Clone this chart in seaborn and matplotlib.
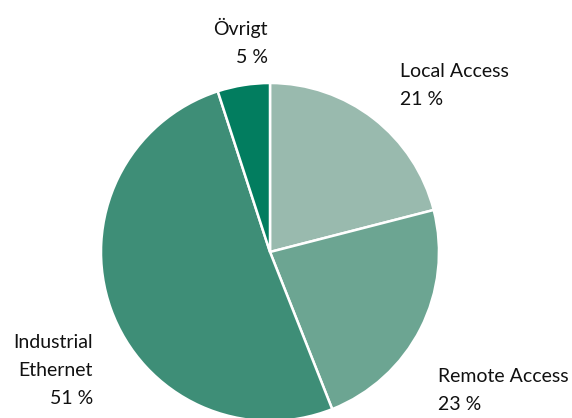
import matplotlib
matplotlib.use("Agg")
import matplotlib.pyplot as plt
import seaborn as sns

# Data
kategorier = ["Local Access", "Remote Access", "Industrial Ethernet", "Övrigt"]
andelar = [21, 23, 51, 5]
etikett_rader = [["Local Access"], ["Remote Access"], ["Industrial", "Ethernet"], ["Övrigt"]]
farger = ["#99baae", "#6ca592", "#3e8e77", "#027d5f"]

sns.set_theme(style="white")
plt.rcParams["font.family"] = ["Lato", "DejaVu Sans"]

fig = plt.figure(figsize=(5.72, 4.18), dpi=100)
ax = fig.add_axes([0, 0, 1, 1])

wedges, _ = ax.pie(andelar, colors=farger, startangle=90, counterclock=False,
                   radius=1, wedgeprops=dict(edgecolor="white", linewidth=1.8))

# Pie centre at pixel (270, 252), radius 169 px
ax.set_xlim(-270 / 169, (572 - 270) / 169)
ax.set_ylim(-(418 - 252) / 169, 252 / 169)
ax.set_aspect("equal")
ax.axis("off")

# Label placement: (x, first baseline y, ha)
pos = {
    "Local Access": (0.769, 1.036, "left"),
    "Remote Access": (0.994, -0.769, "left"),
    "Industrial Ethernet": (-1.047, -0.568, "right"),
    "Övrigt": (-0.012, 1.284, "right"),
}
steg = 28 / 169

for kat, v, rader in zip(kategorier, andelar, etikett_rader):
    x, y, ha = pos[kat]
    for i, txt in enumerate(rader + [f"{v} %"]):
        ax.text(x, y - i * steg, txt, ha=ha, va="baseline", fontsize=14, color="#111111")

fig.savefig("out.png", dpi=100)
